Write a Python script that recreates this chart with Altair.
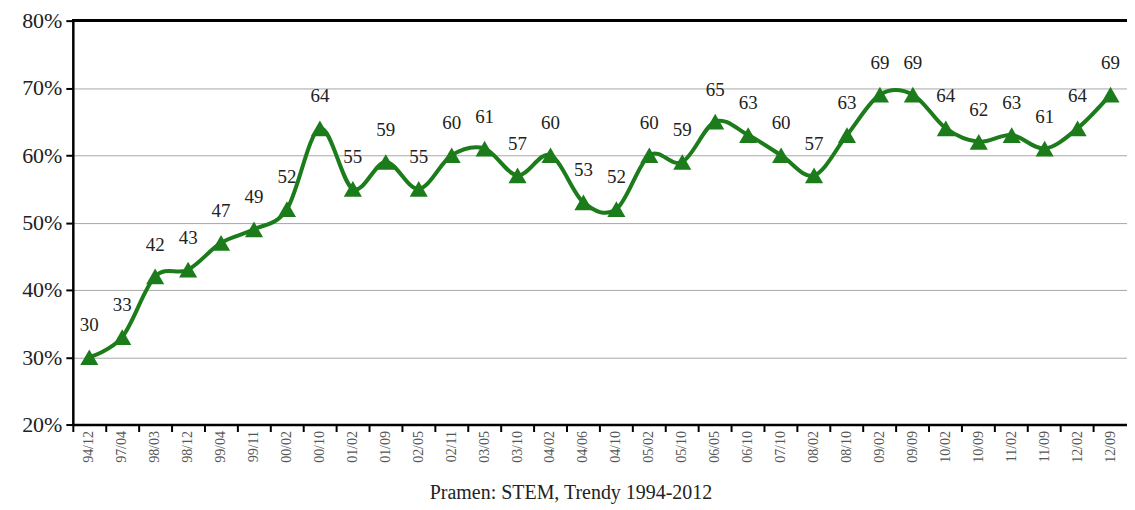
import altair as alt
import pandas as pd

periods = ["94/12", "97/04", "98/03", "98/12", "99/04", "99/11", "00/02", "00/10",
           "01/02", "01/09", "02/05", "02/11", "03/05", "03/10", "04/02", "04/06",
           "04/10", "05/02", "05/10", "06/05", "06/10", "07/10", "08/02", "08/10",
           "09/02", "09/09", "10/02", "10/09", "11/02", "11/09", "12/02", "12/09"]
values = [30, 33, 42, 43, 47, 49, 52, 64, 55, 59, 55, 60, 61, 57, 60, 53,
          52, 60, 59, 65, 63, 60, 57, 63, 69, 69, 64, 62, 63, 61, 64, 69]
y_ticks = [0.2, 0.3, 0.4, 0.5, 0.6, 0.7, 0.8]

df = pd.DataFrame({
    "period": periods,
    "pct": [v / 100 for v in values],
    "label": [str(v) for v in values],
})

GREEN = "#1c7c1c"
FONT = "'Liberation Serif', 'Times New Roman', 'DejaVu Serif', serif"
W, H = 1057, 405

xsc = alt.Scale(type="band", domain=periods, paddingInner=0, paddingOuter=0)
ysc = alt.Scale(domain=[0.2, 0.8], nice=False, zero=False)

label_axis = alt.Axis(
    orient="bottom", labelAngle=-90, labelAlign="right", labelBaseline="middle",
    labelFont=FONT, labelFontSize=14, labelColor="#555", labelPadding=6,
    ticks=False, domain=True, domainColor="#000", domainWidth=2.5,
    title="Pramen: STEM, Trendy 1994-2012", titleFont=FONT, titleFontSize=20,
    titleFontWeight="normal", titleColor="#222", titlePadding=20, titleX=499,
    grid=False,
)
y_axis = alt.Axis(
    values=y_ticks, format=".0%", labelFont=FONT, labelFontSize=22, labelColor="#222",
    labelPadding=4, tickColor="#000", tickWidth=2, tickSize=7,
    domainColor="#000", domainWidth=2.5, grid=True, gridColor="#a8a8a8",
    gridWidth=1, title=None,
)

base = alt.Chart(df)

line = base.mark_line(interpolate="cardinal", color=GREEN, strokeWidth=4).encode(
    x=alt.X("period:N", sort=periods, scale=xsc, axis=label_axis),
    y=alt.Y("pct:Q", scale=ysc, axis=y_axis),
)
points = base.mark_point(shape="triangle-up", filled=True, size=330, color=GREEN, opacity=1).encode(
    x=alt.X("period:N", sort=periods, scale=xsc, axis=None),
    y=alt.Y("pct:Q", scale=ysc),
)
labels = base.mark_text(dy=-32, font=FONT, fontSize=19, color="#222").encode(
    x=alt.X("period:N", sort=periods, scale=xsc, axis=None),
    y=alt.Y("pct:Q", scale=ysc),
    text="label:N",
)
tick_layer = base.mark_point(opacity=0).encode(
    x=alt.X("period:N", sort=periods, scale=xsc,
            axis=alt.Axis(orient="bottom", bandPosition=0, labels=False, ticks=True,
                          tickColor="#000", tickWidth=2, tickSize=7, domain=False,
                          grid=False, title=None)),
)
top_border = alt.Chart(df).mark_rule(color="#000", strokeWidth=2.5).encode(
    x=alt.value(0), x2=alt.value(W), y=alt.value(0)
)

chart = alt.layer(line, points, labels, tick_layer, top_border).resolve_axis(
    x="independent"
).properties(
    width=W, height=H,
    autosize=alt.AutoSizeParams(type="none"),
    padding={"left": 65, "top": 12, "right": 0, "bottom": 80},
).configure_view(stroke="#999", strokeWidth=1).configure(background="white")

chart.save("out.html", embed_options={"renderer": "svg", "actions": False})
